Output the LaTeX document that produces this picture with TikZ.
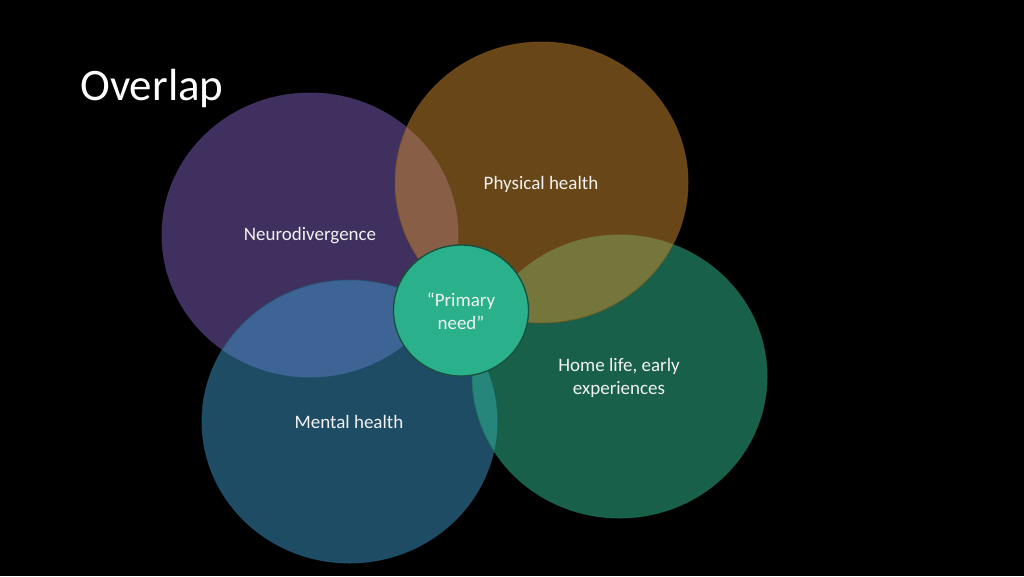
\documentclass[tikz,border=0pt]{standalone}
\usepackage{fontspec}
\setmainfont{Carlito}
\usepackage{xcolor}
\usepackage{tikz}

\definecolor{neurofill}{RGB}{128,96,192}
\definecolor{physfill}{RGB}{208,140,48}
\definecolor{homefill}{RGB}{48,192,148}
\definecolor{mentalfill}{RGB}{60,152,200}
\definecolor{primaryfill}{RGB}{42,176,138}
\definecolor{primaryedge}{RGB}{22,80,62}
\definecolor{lbltext}{RGB}{242,242,242}

\tikzset{
  blob/.style={draw=#1!60!black, draw opacity=0.6, line width=0.75, fill=#1, fill opacity=0.5},
  lbl/.style={inner sep=0.75pt, text=lbltext, align=center, font=\fontsize{14.25}{17.25}\selectfont}
}

\begin{document}
\begin{tikzpicture}[x=0.75pt,y=0.75pt,yscale=-1,xscale=1]
%set diagram to the slide, 1024 by 576
\path [fill=black, use as bounding box] (0,0) rectangle (1024,576);

%Shape: Ellipse [Neurodivergence]
\draw [blob=neurofill] (310,235) ellipse [x radius=148, y radius=142];
%Shape: Ellipse [Mental health]
\draw [blob=mentalfill] (349.5,421.5) ellipse [x radius=147.5, y radius=141.5];
%Shape: Ellipse [Home life]
\draw [blob=homefill] (619.5,376.5) ellipse [x radius=147.5, y radius=141.5];
%Shape: Ellipse [Physical health]
\draw [blob=physfill] (541.5,182.5) ellipse [x radius=146.5, y radius=140.5];
%Shape: Ellipse [Primary need]
\draw [draw=primaryedge, line width=1, fill=primaryfill] (461,310.5) ellipse [x radius=67.5, y radius=65.5];

% Text Node
\draw (80,100) node [anchor=base west, inner sep=0pt, text=white, font=\fontsize{33.75}{40}\selectfont] (title) {Overlap};
% Text Node
\draw (310,236) node [lbl] (neuro) {Neurodivergence};
% Text Node
\draw (541,184) node [lbl] (phys) {Physical health};
% Text Node
\draw (619,377.5) node [lbl] (home) {Home life, early\\experiences};
% Text Node
\draw (349,422) node [lbl] (mental) {Mental health};
% Text Node
\draw (461,311.5) node [lbl] (primary) {``Primary\\need''};

\end{tikzpicture}
\end{document}
